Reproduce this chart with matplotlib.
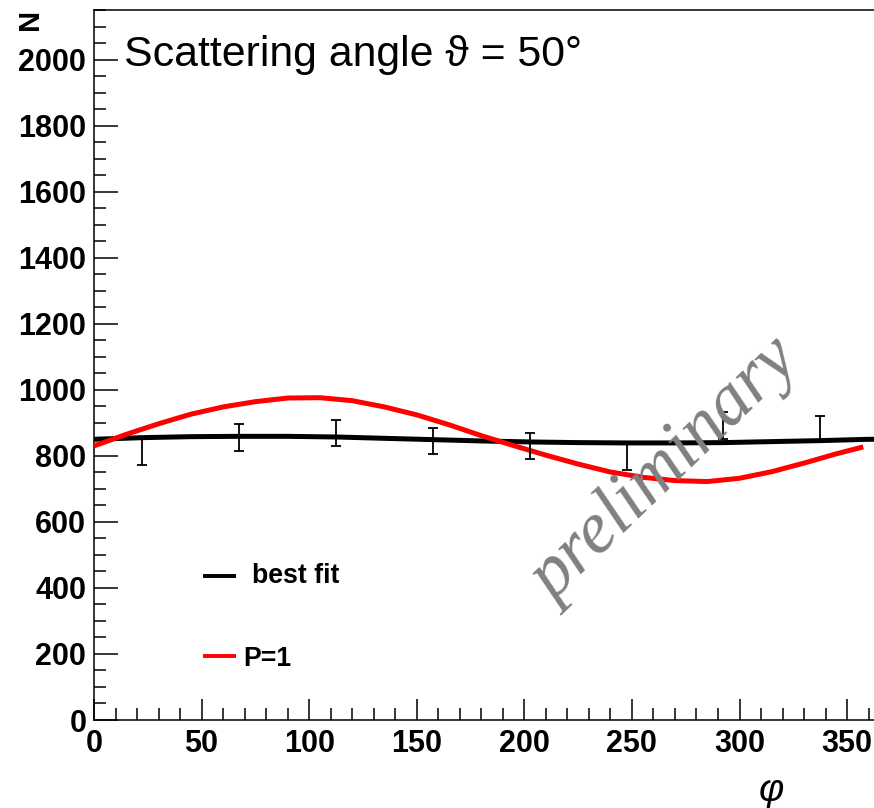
import matplotlib
matplotlib.use("Agg")
import matplotlib.pyplot as plt
from matplotlib.lines import Line2D
from matplotlib.ticker import MultipleLocator

# Measured counts in 45-degree azimuthal bins
phi_bins = [22.5, 67.5, 112.5, 157.5, 202.5, 247.5, 292.5, 337.5]
counts = [812, 856, 870, 845, 829, 797, 892, 881]
count_err = [39, 40, 39, 38, 39, 39, 40, 40]

# Best-fit curve sampled in azimuth
phi_fit = [0, 22.5, 45, 67.5, 90, 112.5, 135, 157.5, 180, 202.5, 225,
           247.5, 270, 292.5, 315, 337.5, 360, 363]
best_fit = [850, 855, 858, 859, 859, 857, 853, 849, 845, 842, 840,
            839, 839, 840, 843, 846, 850, 850]

# Expected distribution for full polarisation (P=1)
phi_p1 = [0, 15, 30, 45, 60, 75, 90, 105, 120, 135, 150, 165, 180, 195,
          210, 225, 240, 255, 270, 285, 300, 315, 330, 345, 357.5]
p1_curve = [830, 865, 897, 926, 948, 964, 975, 976, 967, 948, 924, 894,
            861, 831, 802, 775, 751, 735, 725, 722, 732, 752, 778, 806, 827]

W, H = 874, 808
fig = plt.figure(figsize=(W / 100, H / 100), dpi=100)
x0, x1, y0, y1 = 94, 874, 720, 10
ax = fig.add_axes([x0 / W, 1 - y0 / H, (x1 - x0) / W, (y0 - y1) / H])

ax.plot(phi_fit, best_fit, color="black", lw=3.6, zorder=3,
        solid_capstyle="butt")
ax.plot(phi_p1, p1_curve, color="red", lw=3.6, zorder=4,
        solid_capstyle="butt", solid_joinstyle="round")
ax.errorbar(phi_bins, counts, yerr=count_err, fmt="none", ecolor="black",
            elinewidth=1.3, capsize=3.4, capthick=1.3, zorder=5)

ax.set_xlim(0, 362.5)
ax.set_ylim(0, 2150)
ax.xaxis.set_major_locator(MultipleLocator(50))
ax.xaxis.set_minor_locator(MultipleLocator(10))
ax.yaxis.set_major_locator(MultipleLocator(200))
ax.yaxis.set_minor_locator(MultipleLocator(50))

ax.spines["right"].set_visible(False)
for s in ("left", "bottom", "top"):
    ax.spines[s].set_linewidth(1.1)
ax.tick_params(axis="both", which="both", direction="in", width=1.1,
               top=False, right=False)
ax.tick_params(axis="y", which="major", length=17, pad=5.5)
ax.tick_params(axis="y", which="minor", length=8.6)
ax.tick_params(axis="x", which="major", length=15, pad=6.5)
ax.tick_params(axis="x", which="minor", length=8.3)

for lab in ax.get_xticklabels() + ax.get_yticklabels():
    lab.set_fontfamily("Liberation Sans")
    lab.set_fontweight("bold")
    lab.set_fontsize(22)

# Axis titles
fig.text(30 / W, 1 - 19.5 / H, "N", rotation=90, ha="center", va="center",
         fontsize=21, fontweight="bold", family="Liberation Sans")
fig.text(771 / W, 1 - 791 / H, "φ", ha="center", va="center",
         fontsize=28, style="italic", family=["Liberation Sans", "DejaVu Sans"])

# Header
fig.text(124 / W, 1 - 66 / H, "Scattering angle ϑ = 50°", ha="left",
         va="baseline", fontsize=30.8, family=["Liberation Sans", "DejaVu Sans"])

# Legend entries
fig.add_artist(Line2D([203 / W, 236 / W], [1 - 576 / H] * 2, color="black",
                      lw=2.8, solid_capstyle="butt"))
fig.text(252 / W, 1 - 583 / H, "best fit", ha="left", va="baseline",
         fontsize=19.2, fontweight="bold", family="Liberation Sans")
fig.add_artist(Line2D([203 / W, 236 / W], [1 - 656 / H] * 2, color="red",
                      lw=2.8, solid_capstyle="butt"))
fig.text(243 / W, 1 - 666 / H, "P=1", ha="left", va="baseline",
         fontsize=19.2, fontweight="bold", family="Liberation Sans")

# Watermark
fig.text(666 / W, 1 - 472 / H, "preliminary", rotation=44, color="#808080",
         fontsize=53, style="italic", family="Liberation Serif",
         ha="center", va="center", rotation_mode="anchor", zorder=10)

fig.savefig("out.png", dpi=100)
